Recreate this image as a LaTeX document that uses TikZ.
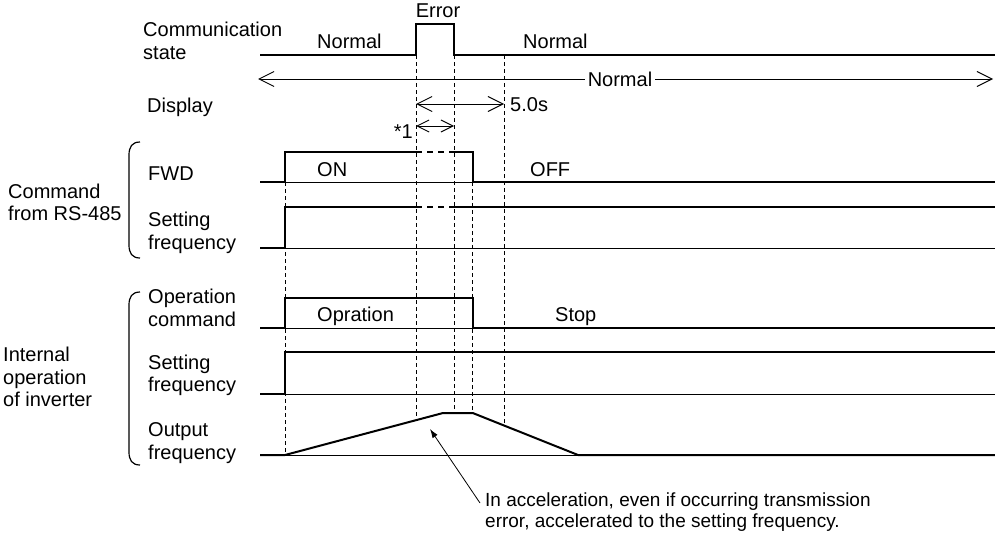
\documentclass[tikz,border=0pt]{standalone}
\usepackage{fontspec}
\setmainfont{Liberation Sans}
\usetikzlibrary{arrows.meta}

\begin{document}
\begin{tikzpicture}[x=1pt, y=-1pt,
	every node/.style={inner sep=0, font=\fontsize{20}{22.5}\selectfont},
	lbl/.style={anchor=base west, align=left},
	sigline/.style={line width=2pt},
	zeroline/.style={line width=0.9pt},
	guideline/.style={line width=0.9pt, dash pattern=on 4pt off 3pt},
	lostline/.style={line width=2pt, dash pattern=on 5.5pt off 5.5pt},
	dimarrow/.style={line width=1pt,
		{Straight Barb[length=15pt,width=15pt]}-{Straight Barb[length=15pt,width=15pt]}},
	grpbrace/.style={line width=1.2pt}]
\useasboundingbox (0,0) rectangle (995,538);

% communication state with the error pulse
\draw[sigline] (260,55) -- (416,55) -- (416,24) -- (454,24) -- (454,55) -- (995,55);
\draw[dimarrow] (258,79) -- node[pos=0.4925, fill=white, inner xsep=3pt] (dispnorm) {Normal} (993,79);
\draw[dimarrow] (416,104) -- (504,104);
\draw[dimarrow, {Straight Barb[length=12pt,width=12pt]}-{Straight Barb[length=12pt,width=12pt]}]
	(416,126) -- (454,126);

% command from RS-485
\draw[zeroline] (285,182) -- (472.7,182);
\draw[sigline] (260,182) -- (285,182) -- (285,152) -- (416,152);
\draw[lostline] (416,152) -- (454,152);
\draw[sigline] (454,152) -- (472.7,152) -- (472.7,182) -- (995,182);

\draw[zeroline] (285,248) -- (995,248);
\draw[sigline] (260,248) -- (285,248) -- (285,207) -- (416,207);
\draw[lostline] (416,207) -- (454,207);
\draw[sigline] (454,207) -- (995,207);

% internal operation
\draw[zeroline] (285,328) -- (472.7,328);
\draw[sigline] (260,328) -- (285,328) -- (285,298) -- (472.7,298) -- (472.7,328) -- (995,328);

\draw[zeroline] (285,394) -- (995,394);
\draw[sigline] (260,394) -- (285,394) -- (285,352) -- (995,352);

\draw[zeroline] (285,455) -- (578,455);
\draw[sigline] (260,455) -- (285,455) -- (443,413) -- (472.7,413) -- (578,455) -- (995,455);

% timing guides
\draw[guideline] (285,182) -- (285,455);
\draw[guideline] (416,55) -- (416,420);
\draw[guideline] (454,55) -- (454,413);
\draw[guideline] (472.7,182) -- (472.7,413);
\draw[guideline] (504,55) -- (504,424);

% braces
\draw[grpbrace] (140,142) .. controls (132,142) and (129,147) .. (129,155) --
	(129,245) .. controls (129,253) and (132,258) .. (140,258);
\draw[grpbrace] (140,292) .. controls (132,292) and (129,297) .. (129,305) --
	(129,452) .. controls (129,460) and (132,465) .. (140,465);

% row labels (base = last line)
\node[lbl] (comm) at (143,59) {Communication\\state};
\node[lbl] (disp) at (147,112) {Display};
\node[lbl] (fwd) at (148,180) {FWD};
\node[lbl] (setcmd) at (148,249.3) {Setting\\frequency};
\node[lbl] (opcmd) at (148,326) {Operation\\command};
\node[lbl] (setint) at (148,391.7) {Setting\\frequency};
\node[lbl] (outf) at (148,459.3) {Output\\frequency};
\node[lbl] (cmd) at (8,220.7) {Command\\from RS-485};
\node[lbl] (intop) at (3,406.7) {Internal\\operation\\of inverter};

% signal labels
\node[anchor=base] (err) at (438,17.3) {Error};
\node[lbl] (norm1) at (317,48.3) {Normal};
\node[lbl] (norm2) at (523,48.3) {Normal};
\node[lbl] (dt) at (510,111.7) {5.0s};
\node[anchor=base east] (star) at (413,138) {*1};
\node[lbl] (on) at (317,176) {ON};
\node[lbl] (off) at (530,176) {OFF};
\node[lbl] (opr) at (317,321.7) {Opration};
\node[lbl] (stop) at (555,321.7) {Stop};

% note on the ramp
\node[lbl, font=\fontsize{19}{20.5}\selectfont] (note) at (485,527)
	{In acceleration, even if occurring transmission\\error, accelerated to the setting frequency.};
\coordinate (ramp) at (430,429);
\coordinate (tail) at (480,503);
\draw[line width=0.8pt, -{Latex[length=9pt,width=6pt]}] (tail) -- (ramp);
\end{tikzpicture}
\end{document}
